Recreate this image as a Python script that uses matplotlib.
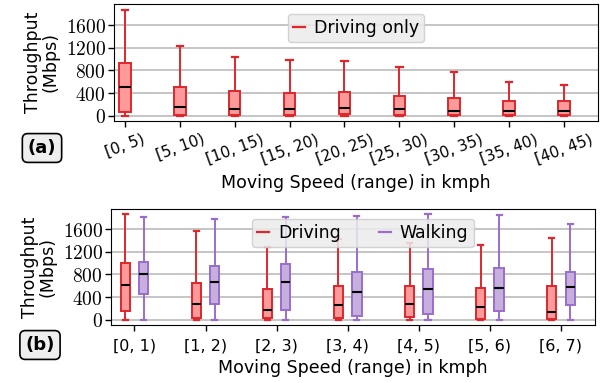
import matplotlib
matplotlib.use("Agg")
import matplotlib.pyplot as plt
from matplotlib.lines import Line2D

plt.rcParams["mathtext.fontset"] = "cm"
plt.rcParams["font.family"] = ["DejaVu Sans"]

# ---- panel (a): driving only, by speed range ----
speed_a = ["[0, 5)", "[5, 10)", "[10, 15)", "[15, 20)", "[20, 25)",
           "[25, 30)", "[30, 35)", "[35, 40)", "[40, 45)"]
a_lo = [0, 0, 0, 0, 0, 0, 0, 0, 0]
a_q1 = [65, 18, 20, 20, 25, 20, 10, 15, 15]
a_med = [510, 158, 128, 128, 140, 117, 94, 94, 88]
a_q3 = [926, 505, 445, 410, 416, 357, 322, 258, 258]
a_hi = [1863, 1230, 1043, 978, 973, 861, 774, 592, 550]

# ---- panel (b): driving vs walking, by speed range ----
speed_b = ["[0, 1)", "[1, 2)", "[2, 3)", "[3, 4)", "[4, 5)", "[5, 6)", "[6, 7)"]
drv_lo = [0, 0, 0, 0, 0, 0, 0]
drv_q1 = [146, 30, 30, 30, 47, 10, 10]
drv_med = [617, 276, 176, 259, 270, 218, 129]
drv_q3 = [1011, 658, 541, 588, 588, 553, 600]
drv_hi = [1864, 1576, 1293, 1420, 1364, 1329, 1446]

wlk_lo = [0, 0, 0, 0, 0, 0, 0]
wlk_q1 = [453, 282, 176, 59, 94, 153, 253]
wlk_med = [800, 676, 665, 488, 541, 559, 582]
wlk_q3 = [1029, 952, 988, 852, 905, 923, 852]
wlk_hi = [1823, 1776, 1820, 1834, 1870, 1852, 1693]

yticks = [0, 400, 800, 1200, 1600]

red_edge = "#e0262b"
red_fill = "#ff9a9a"
pur_edge = "#9a6ccc"
pur_fill = "#c6afdc"


def make_stats(lo, q1, med, q3, hi):
    return [dict(whislo=a, q1=b, med=c, q3=d, whishi=e, fliers=[])
            for a, b, c, d, e in zip(lo, q1, med, q3, hi)]


def draw_boxes(ax, stats, positions, width, edge, fill):
    ax.bxp(
        stats, positions=positions, widths=width, patch_artist=True,
        showfliers=False, manage_ticks=False, capwidths=width * 0.55,
        boxprops=dict(facecolor=fill, edgecolor=edge, linewidth=1.4),
        whiskerprops=dict(color=edge, linewidth=1.4),
        capprops=dict(color=edge, linewidth=1.6),
        medianprops=dict(color="black", linewidth=1.5),
    )


def style_axis(ax):
    ax.set_yticks(yticks)
    ax.set_yticklabels([f"$\\mathbf{{{v}}}$" for v in yticks], fontsize=14)
    ax.yaxis.grid(True, color="#bbbbbb", linewidth=1.2)
    ax.set_axisbelow(True)
    ax.set_ylabel("Throughput\n(Mbps)", fontsize=12.5, linespacing=1.0)
    ax.set_xlabel("Moving Speed (range) in kmph", fontsize=12.5)
    ax.tick_params(axis="both", length=4, width=1)
    ax.tick_params(axis="y", pad=2)


fig = plt.figure(figsize=(6.03, 3.83), dpi=100)
W, H = 603.0, 383.0

# panel (a)
ax_a = fig.add_axes([114 / W, 1 - 121 / H, (598 - 114) / W, (121 - 4) / H])
xa = list(range(len(speed_a)))
draw_boxes(ax_a, make_stats(a_lo, a_q1, a_med, a_q3, a_hi), xa, 0.21, red_edge, red_fill)
ax_a.set_xlim(-0.2, 8.62)
ax_a.set_ylim(-90, 1970)
ax_a.set_xticks(xa)
ax_a.set_xticklabels(speed_a, rotation=20, fontsize=11)
style_axis(ax_a)
ax_a.xaxis.labelpad = 6
ax_a.legend(handles=[Line2D([], [], color=red_edge, linewidth=1.6)],
            labels=["Driving only"], loc="upper center", bbox_to_anchor=(0.50, 0.99),
            fontsize=12.5, handlelength=0.7, handletextpad=0.5,
            facecolor="#ececec", edgecolor="#cccccc", framealpha=0.85,
            borderpad=0.3)

# panel (b)
ax_b = fig.add_axes([111 / W, 1 - 325 / H, (595 - 111) / W, (325 - 209) / H])
xb = list(range(len(speed_b)))
off = 0.13
draw_boxes(ax_b, make_stats(drv_lo, drv_q1, drv_med, drv_q3, drv_hi),
           [x - off for x in xb], 0.13, red_edge, red_fill)
draw_boxes(ax_b, make_stats(wlk_lo, wlk_q1, wlk_med, wlk_q3, wlk_hi),
           [x + off for x in xb], 0.13, pur_edge, pur_fill)
ax_b.set_xlim(-0.33, 6.48)
ax_b.set_ylim(-93, 1958)
ax_b.set_xticks(xb)
ax_b.set_xticklabels(speed_b, fontsize=11.5)
style_axis(ax_b)
ax_b.tick_params(axis="x", pad=6)
ax_b.legend(handles=[Line2D([], [], color=red_edge, linewidth=1.6),
                     Line2D([], [], color=pur_edge, linewidth=1.6)],
            labels=["Driving", "Walking"], loc="upper center",
            bbox_to_anchor=(0.52, 0.99), ncol=2, columnspacing=2.2,
            fontsize=12.5, handlelength=0.7, handletextpad=0.5,
            facecolor="#ececec", edgecolor="#cccccc", framealpha=0.85,
            borderpad=0.3)

# panel tags
box = dict(boxstyle="round,pad=0.3", facecolor="#eeeeee", edgecolor="black", linewidth=1.2)
fig.text(42 / W, 1 - 148 / H, "(a)", fontsize=13, fontweight="bold",
         ha="center", va="center", bbox=box)
fig.text(40 / W, 1 - 345 / H, "(b)", fontsize=13, fontweight="bold",
         ha="center", va="center", bbox=box)

fig.savefig("out.png", dpi=100)
